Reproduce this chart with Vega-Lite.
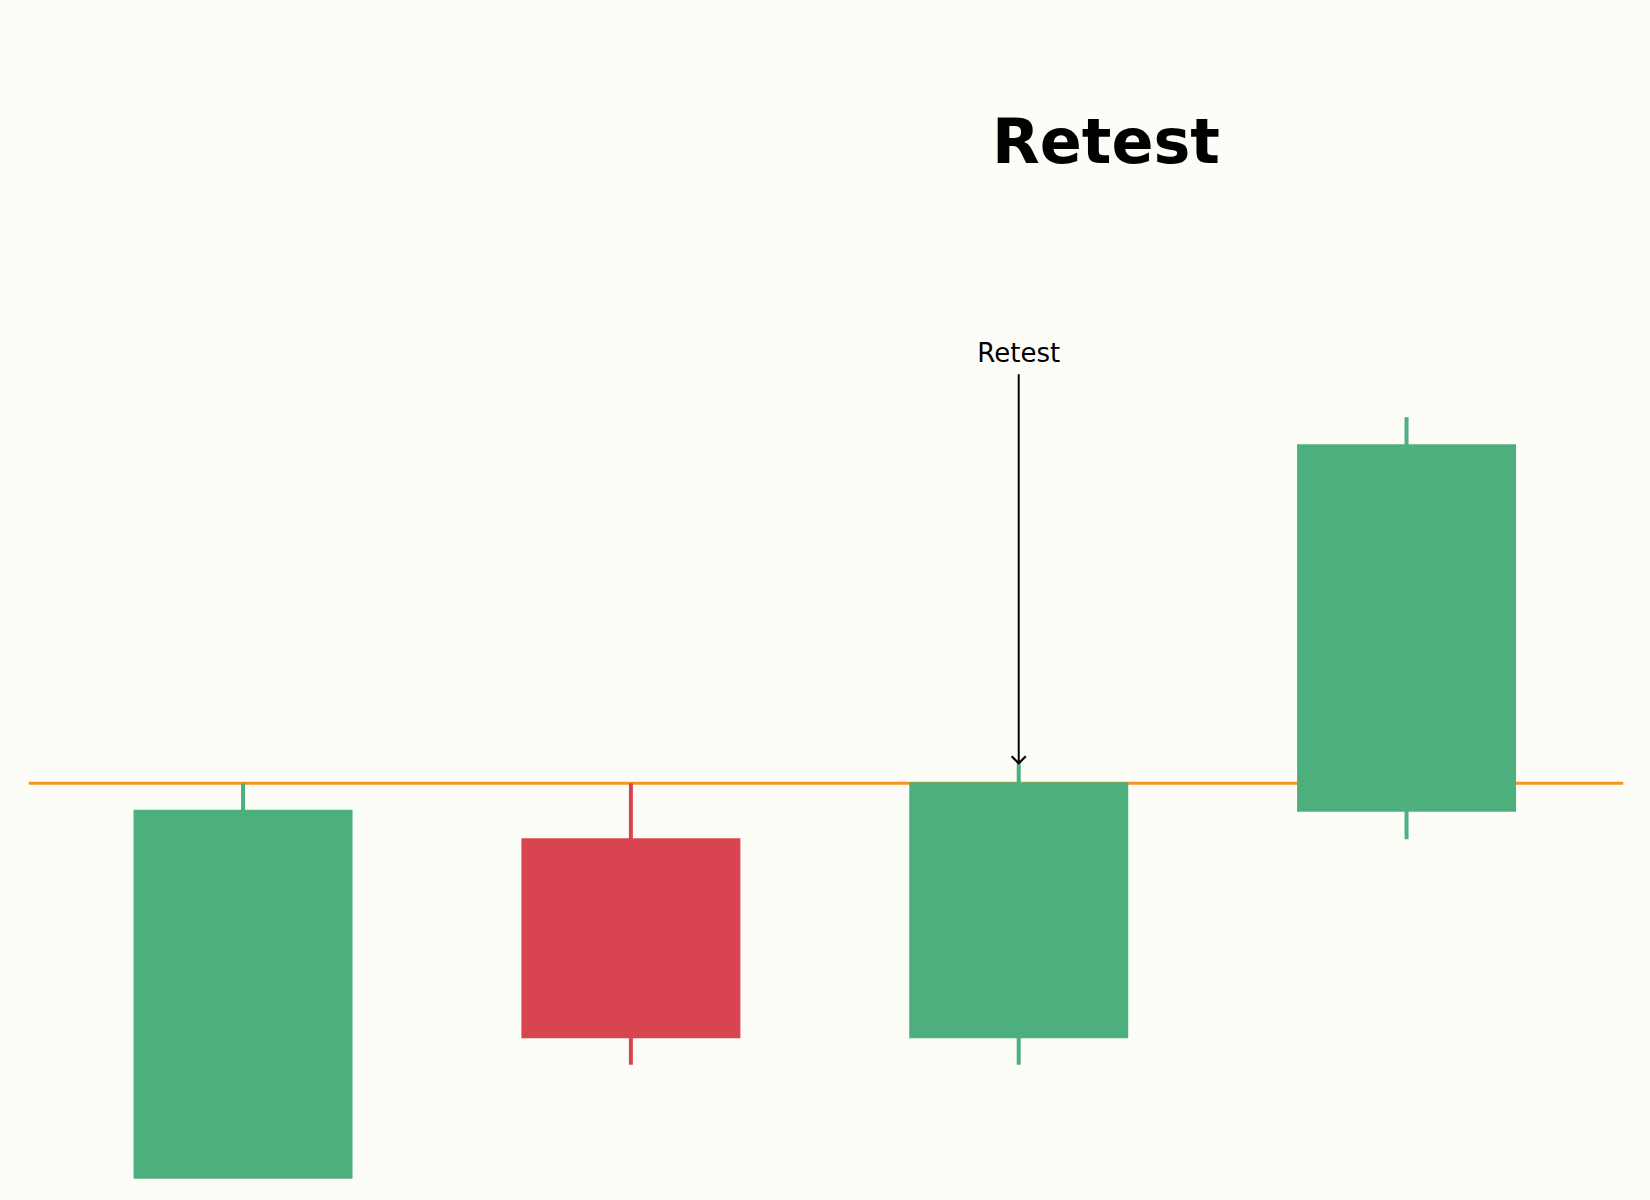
{
  "$schema": "https://vega.github.io/schema/vega-lite/v6.json",
  "width": 1650,
  "height": 1200,
  "autosize": {"type": "none"},
  "padding": 0,
  "background": "#FDFDF8",
  "config": {"view": {"stroke": null}, "font": "DejaVu Sans"},
  "datasets": {
    "candles": [
      {"i": 0, "open": 92.09, "close": 99.47, "high": 100.0, "low": 92.15},
      {"i": 1, "open": 98.9, "close": 94.9, "high": 100.0, "low": 94.37},
      {"i": 2, "open": 94.9, "close": 100.02, "high": 100.42, "low": 94.37},
      {"i": 3, "open": 99.43, "close": 106.78, "high": 107.32, "low": 98.88}
    ],
    "level": [{"price": 100, "start": -0.5525, "end": 3.5586}],
    "arrow": [{"i": 2, "from": 108.18, "to": 100.4, "label": "Retest", "labelAt": 108.43}],
    "heading": [{"i": 2.225, "price": 112.4, "text": "Retest"}]
  },
  "encoding": {
    "x": {"type": "quantitative", "scale": {"domain": [-0.6138, 3.6148], "nice": false, "zero": false}, "axis": null},
    "y": {"type": "quantitative", "scale": {"domain": [91.666, 115.666], "nice": false, "zero": false}, "axis": null}
  },
  "layer": [
    {
      "data": {"name": "level"},
      "mark": {"type": "rule", "color": "#F7931E", "strokeWidth": 3},
      "encoding": {
        "x": {"field": "start", "type": "quantitative"},
        "x2": {"field": "end"},
        "y": {"field": "price", "type": "quantitative"}
      }
    },
    {
      "data": {"name": "candles"},
      "mark": {"type": "rule", "strokeWidth": 4},
      "encoding": {
        "x": {"field": "i", "type": "quantitative"},
        "y": {"field": "low", "type": "quantitative"},
        "y2": {"field": "high"},
        "color": {
          "condition": {"test": "datum.close >= datum.open", "value": "#4EAF7E"},
          "value": "#D84550"
        }
      }
    },
    {
      "data": {"name": "candles"},
      "mark": {"type": "bar", "size": 219},
      "encoding": {
        "x": {"field": "i", "type": "quantitative"},
        "y": {"field": "open", "type": "quantitative"},
        "y2": {"field": "close"},
        "color": {
          "condition": {"test": "datum.close >= datum.open", "value": "#4EAF7E"},
          "value": "#D84550"
        }
      }
    },
    {
      "data": {"name": "arrow"},
      "mark": {"type": "rule", "color": "black", "strokeWidth": 2},
      "encoding": {
        "x": {"field": "i", "type": "quantitative"},
        "y": {"field": "from", "type": "quantitative"},
        "y2": {"field": "to"}
      }
    },
    {
      "data": {"name": "arrow"},
      "mark": {"type": "point", "shape": "M -1 -1 L 0 0 L 1 -1", "filled": false, "stroke": "black", "strokeWidth": 2.2, "size": 200, "opacity": 1},
      "encoding": {
        "x": {"field": "i", "type": "quantitative"},
        "y": {"field": "to", "type": "quantitative"}
      }
    },
    {
      "data": {"name": "arrow"},
      "mark": {"type": "text", "fontSize": 26, "align": "center", "baseline": "alphabetic", "color": "black"},
      "encoding": {
        "x": {"field": "i", "type": "quantitative"},
        "y": {"field": "labelAt", "type": "quantitative"},
        "text": {"field": "label"}
      }
    },
    {
      "data": {"name": "heading"},
      "mark": {"type": "text", "fontSize": 62, "fontWeight": "bold", "align": "center", "baseline": "alphabetic", "color": "black"},
      "encoding": {
        "x": {"field": "i", "type": "quantitative"},
        "y": {"field": "price", "type": "quantitative"},
        "text": {"field": "text"}
      }
    }
  ]
}
